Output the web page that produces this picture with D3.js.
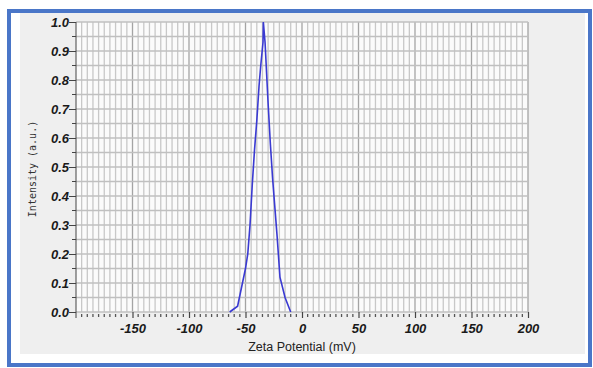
<!DOCTYPE html>
<html>
<head>
<meta charset="utf-8">
<script src="https://cdn.jsdelivr.net/npm/d3@7"></script>
<style>
  body { margin: 0; background: #ffffff; }
  svg { display: block; }
</style>
</head>
<body>
<div id="chart"></div>
<script>
// Zeta potential distribution
const zeta = [-64, -57, -50, -48, -46, -44, -42, -40, -38, -36.5, -34.5, -34.2, -32.7, -30, -28, -26, -24, -22, -19.5, -15, -10];
const intensity = [0, 0.02, 0.15, 0.2, 0.3, 0.44, 0.56, 0.66, 0.78, 0.85, 0.93, 1.0, 0.93, 0.72, 0.58, 0.46, 0.36, 0.26, 0.12, 0.05, 0];
const xTickValues = [-150, -100, -50, 0, 50, 100, 150, 200];
const yTickValues = [0, 0.1, 0.2, 0.3, 0.4, 0.5, 0.6, 0.7, 0.8, 0.9, 1.0];

const W = 593, H = 368;
const svg = d3.select('#chart').append('svg')
  .attr('width', W)
  .attr('height', H);

// Outer frame + grey panel
svg.append('rect')
  .attr('x', 9).attr('y', 11)
  .attr('width', 581).attr('height', 354)
  .attr('fill', '#ffffff')
  .attr('stroke', '#4a76c8')
  .attr('stroke-width', 4);

svg.append('rect')
  .attr('x', 20).attr('y', 13)
  .attr('width', 565).attr('height', 341)
  .attr('fill', '#efefef');

// Plot area
const plotL = 76, plotR = 528, plotT = 22, plotB = 312;

const x = d3.scaleLinear().domain([-200, 200]).range([plotL, plotR]);
const y = d3.scaleLinear().domain([0, 1]).range([plotB, plotT]);

svg.append('rect')
  .attr('x', plotL).attr('y', plotT)
  .attr('width', plotR - plotL).attr('height', plotB - plotT)
  .attr('fill', '#fbfbfb');

// Grid
const g = svg.append('g');
g.selectAll('.vgrid')
  .data(d3.range(-195, 201, 5))
  .enter().append('line')
  .attr('x1', d => x(d)).attr('x2', d => x(d))
  .attr('y1', plotT).attr('y2', plotB)
  .attr('stroke', d => d % 50 === 0 ? '#a4a4a4' : '#c8c8c8')
  .attr('stroke-width', 1.3);

g.selectAll('.hgrid')
  .data(d3.range(0, 21).map(i => i * 0.05))
  .enter().append('line')
  .attr('x1', plotL).attr('x2', plotR)
  .attr('y1', d => y(d)).attr('y2', d => y(d))
  .attr('stroke', '#c0c0c0')
  .attr('stroke-width', 1.3);

// X axis (minor ticks every 5 mV)
const xAxis = svg.append('g')
  .attr('transform', `translate(0,${plotB})`);
xAxis.selectAll('.minor')
  .data(d3.range(-195, 201, 5).filter(d => d % 50 !== 0))
  .enter().append('line')
  .attr('x1', d => x(d)).attr('x2', d => x(d))
  .attr('y1', 2).attr('y2', 5)
  .attr('stroke', '#555')
  .attr('stroke-width', 1.3);
xAxis.call(d3.axisBottom(x).tickValues(xTickValues).tickFormat(d => String(d)).tickSize(6).tickSizeOuter(0))
  .call(a => a.select('.domain').remove())
  .call(a => a.selectAll('.tick line').attr('stroke', '#444').attr('stroke-width', 1.2))
  .selectAll('text')
  .attr('dy', '0.95em')
  .style('font-family', '"Liberation Sans", Arial, sans-serif')
  .style('font-size', '13px')
  .style('font-weight', 'bold')
  .style('font-style', 'italic')
  .attr('fill', '#1a1a1a');

// Y axis
const yAxis = svg.append('g')
  .attr('transform', `translate(${plotL},0)`);
yAxis.selectAll('.minor')
  .data(d3.range(0, 10).map(i => i * 0.1 + 0.05))
  .enter().append('line')
  .attr('x1', -4).attr('x2', 0)
  .attr('y1', d => y(d)).attr('y2', d => y(d))
  .attr('stroke', '#444');
yAxis.call(d3.axisLeft(y).tickValues(yTickValues).tickFormat(d3.format('.1f')).tickSize(7).tickSizeOuter(0))
  .call(a => a.select('.domain').attr('d', `M0,${plotT}V${plotB + 6}`).attr('stroke', '#444'))
  .call(a => a.selectAll('.tick line').attr('stroke', '#444'))
  .selectAll('text')
  .attr('x', -7)
  .style('font-family', '"Liberation Sans", Arial, sans-serif')
  .style('font-size', '13px')
  .style('font-weight', 'bold')
  .style('font-style', 'italic')
  .attr('fill', '#1a1a1a');

// Data line
const line = d3.line()
  .x((d, i) => x(zeta[i]))
  .y((d, i) => y(intensity[i]));

svg.append('path')
  .datum(zeta)
  .attr('d', line)
  .attr('fill', 'none')
  .attr('stroke', '#3a3ad2')
  .attr('stroke-width', 1.6);

// Axis titles
svg.append('text')
  .attr('x', x(0))
  .attr('y', 351)
  .attr('text-anchor', 'middle')
  .style('font-family', '"Liberation Sans", Arial, sans-serif')
  .style('font-size', '12.5px')
  .attr('fill', '#222')
  .text('Zeta Potential (mV)');

svg.append('text')
  .attr('transform', `translate(36,${(plotT + plotB) / 2 + 2}) rotate(-90)`)
  .attr('text-anchor', 'middle')
  .style('font-family', '"DejaVu Sans Mono", "Liberation Mono", monospace')
  .style('font-size', '10px')
  .attr('fill', '#333')
  .text('Intensity (a.u.)');
</script>
</body>
</html>
